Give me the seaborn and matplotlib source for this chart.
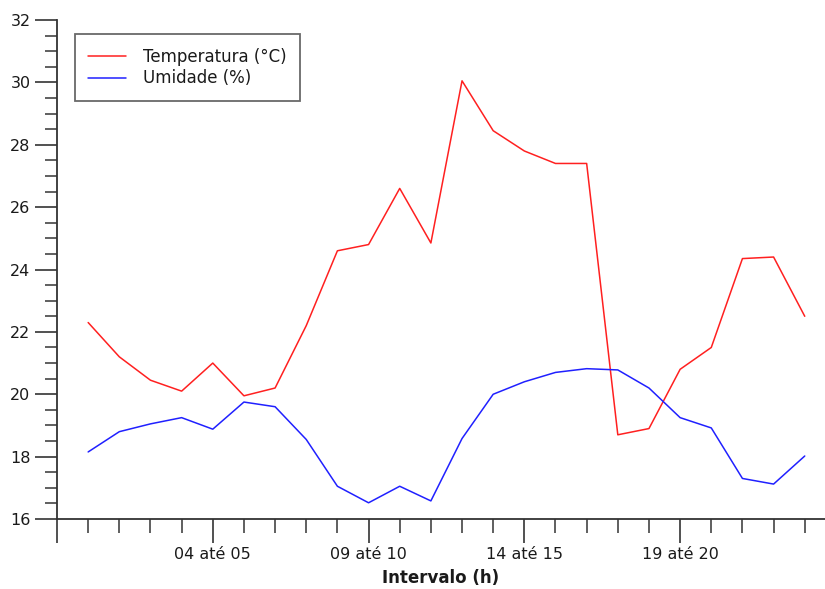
import numpy as np
import pandas as pd
import matplotlib
matplotlib.use("Agg")
import matplotlib.pyplot as plt
import seaborn as sns
from matplotlib.ticker import MultipleLocator, FixedLocator, FixedFormatter

# Hourly intervals 00-01 ... 23-24
intervals = [f"{h:02d} até {h + 1:02d}" for h in range(24)]
temperatura = [22.3, 21.2, 20.45, 20.1, 21.0, 19.95, 20.2, 22.2, 24.6, 24.8, 26.6, 24.85,
               30.05, 28.45, 27.8, 27.4, 27.4, 18.7, 18.9, 20.8, 21.5, 24.35, 24.4, 22.5]
umidade = [18.15, 18.8, 19.05, 19.25, 18.88, 19.75, 19.6, 18.55, 17.05, 16.52, 17.05, 16.58,
           18.58, 20.0, 20.4, 20.7, 20.82, 20.78, 20.2, 19.25, 18.92, 17.3, 17.12, 18.02]
labeled_ticks = ["04 até 05", "09 até 10", "14 até 15", "19 até 20"]

serie_temp = "Temperatura (°C)"
serie_umid = "Umidade (%)"

df = pd.DataFrame({
    "pos": list(range(24)) * 2,
    "intervalo": intervals * 2,
    "valor": temperatura + umidade,
    "serie": [serie_temp] * 24 + [serie_umid] * 24,
})

sns.set_theme(style="white")
plt.rcParams["font.family"] = ["DejaVu Sans"]

fig = plt.figure(figsize=(8.25, 5.89), dpi=100)
ax = fig.add_axes([57 / 825, 1 - 519 / 589, 1 - 57 / 825, (519 - 20) / 589])

sns.lineplot(data=df, x="pos", y="valor", hue="serie",
             palette={serie_temp: "#ff2020", serie_umid: "#2020ff"},
             linewidth=1.1, ax=ax, sort=False)

ax.set_ylim(16, 32)
ax.set_xlim(-1, 23.65)

# y axis: labels every 2, minor every 0.5, ticks pointing outward
ax.yaxis.set_major_locator(MultipleLocator(2))
ax.yaxis.set_minor_locator(MultipleLocator(0.5))

# x axis: a minor tick at every interval, long ticks every fifth interval
major_pos = [-1] + [intervals.index(t) for t in labeled_ticks]
ax.xaxis.set_major_locator(FixedLocator(major_pos))
ax.xaxis.set_major_formatter(FixedFormatter([""] + labeled_ticks))
ax.xaxis.set_minor_locator(FixedLocator(list(range(0, 24))))

ax.tick_params(axis="both", which="both", bottom=True, left=True, top=False, right=False)
ax.tick_params(axis="both", which="major", direction="out", length=16, width=1.2,
               color="#333333", labelsize=11.5, labelcolor="#1a1a1a", pad=3)
ax.tick_params(axis="both", which="minor", direction="out", length=9, width=1.2,
               color="#444444")
ax.tick_params(axis="x", which="major", length=17, pad=3)
ax.tick_params(axis="x", which="minor", length=10)

for side in ("top", "right"):
    ax.spines[side].set_visible(False)
for side in ("left", "bottom"):
    ax.spines[side].set_color("#333333")
    ax.spines[side].set_linewidth(1.3)

ax.set_ylabel("")
ax.set_xlabel("Intervalo (h)", fontsize=12, fontweight="bold", color="#1a1a1a", labelpad=5)

leg = ax.legend(loc="upper left", bbox_to_anchor=(0.023, 0.971), borderaxespad=0,
                fancybox=False, frameon=True, fontsize=12, handlelength=2.3,
                handletextpad=1.0, labelspacing=0.22, borderpad=0.8,
                edgecolor="#444444", title=None)
leg.get_frame().set_linewidth(1.3)
for t in leg.get_texts():
    t.set_color("#1a1a1a")

fig.savefig("out.png", dpi=100, facecolor="white")
